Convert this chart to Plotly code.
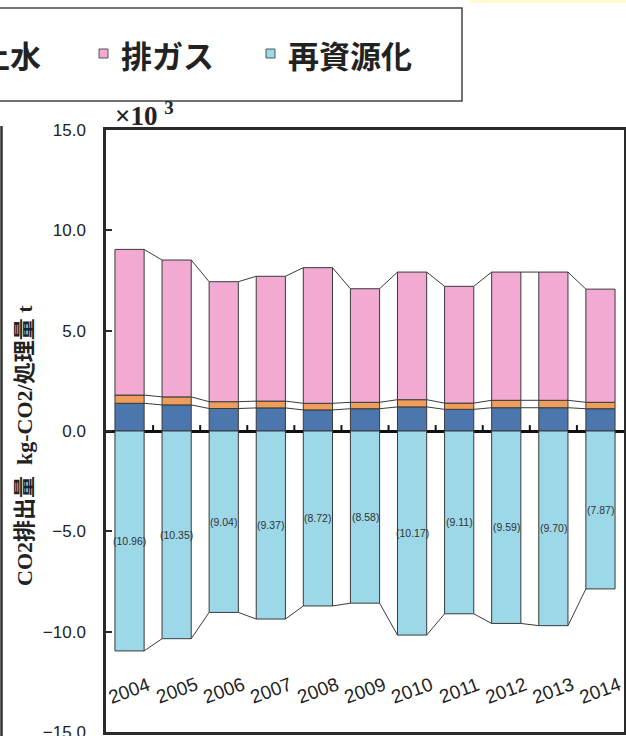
import plotly.graph_objects as go

# CO2 emission per treated tonne, by source (x10^3 kg-CO2/t)
years = ["2004", "2005", "2006", "2007", "2008", "2009",
         "2010", "2011", "2012", "2013", "2014"]
electricity = [1.38, 1.30, 1.12, 1.15, 1.05, 1.11, 1.20, 1.08, 1.16, 1.16, 1.11]
water = [0.41, 0.40, 0.34, 0.34, 0.33, 0.32, 0.36, 0.31, 0.37, 0.37, 0.32]
exhaust = [7.26, 6.82, 5.98, 6.22, 6.76, 5.66, 6.36, 5.82, 6.39, 6.39, 5.64]
recycling = [-10.96, -10.35, -9.04, -9.37, -8.72, -8.58,
             -10.17, -9.11, -9.59, -9.70, -7.87]
y_ticks = [15, 10, 5, 0, -5, -10, -15]

C_ELEC = "#4C76AE"
C_WATER = "#EE9E5A"
C_EXHAUST = "#F2AAD2"
C_RECYC = "#9CD8E8"
EDGE = "#3a3a3a"

# plot area in pixels (figure 626 x 736)
L, R, T, B = 106, 2, 130, 4
W_FIG, H_FIG = 626, 736
PW = W_FIG - L - R
PH = H_FIG - T - B


def px(xp):
    return (xp - L) / PW


def py(yp):
    return (H_FIG - B - yp) / PH


idx = list(range(len(years)))
BAR_W = 0.62
half = BAR_W / 2

fig = go.Figure()
for name, vals, col in [("電力", electricity, C_ELEC), ("上水", water, C_WATER),
                        ("排ガス", exhaust, C_EXHAUST), ("再資源化", recycling, C_RECYC)]:
    fig.add_trace(go.Bar(x=idx, y=vals, name=name, width=BAR_W,
                         marker=dict(color=col, line=dict(color=EDGE, width=1)),
                         showlegend=False))

# series lines joining the stack levels of neighbouring bars
lvl_elec = electricity
lvl_water = [a + b for a, b in zip(electricity, water)]
lvl_top = [a + b + c for a, b, c in zip(electricity, water, exhaust)]
for lvl in (lvl_elec, lvl_water, lvl_top, recycling):
    xs, ys = [], []
    for i in range(len(idx) - 1):
        xs += [i + half, i + 1 - half, None]
        ys += [lvl[i], lvl[i + 1], None]
    fig.add_trace(go.Scatter(x=xs, y=ys, mode="lines", hoverinfo="skip",
                             line=dict(color=EDGE, width=1), showlegend=False))

# small category boundary ticks on the zero line
fig.add_trace(go.Scatter(x=[i + 0.5 for i in idx[:-1]], y=[0.12] * (len(idx) - 1),
                         mode="markers", hoverinfo="skip", showlegend=False,
                         marker=dict(symbol="line-ns", size=5,
                                     line=dict(color="#111", width=2))))

ann = []
# value labels for the recycling credit
for i, v in zip(idx, recycling):
    ann.append(dict(x=i, y=v / 2, text=f"({abs(v):.2f})", showarrow=False,
                    font=dict(family="Liberation Sans, Arial", size=10.5, color="#333")))
# year labels inside the frame
for i, yr in zip(idx, years):
    ann.append(dict(x=i, y=-12.95, text=yr, showarrow=False, textangle=-20,
                    font=dict(family="Liberation Sans, Arial", size=19, color="#1e1e1e")))

# axis title
ann.append(dict(xref="paper", yref="paper", x=px(24), y=py(446),
                xanchor="center", yanchor="middle",
                text="<b>CO2排出量  kg-CO2/処理量 t</b>", textangle=-90, showarrow=False,
                font=dict(family="Liberation Serif, Noto Sans CJK JP", size=22, color="#222")))
# unit multiplier
ann.append(dict(xref="paper", yref="paper", x=px(113), y=py(114),
                xanchor="left", yanchor="middle",
                text="<b>×10 <sup>3</sup></b>", showarrow=False,
                font=dict(family="Liberation Serif", size=27, color="#222")))

# legend row
leg_font = dict(family="Noto Sans CJK JP", size=31, color="#222")
for xa, anchor, label in [(43, "right", "上水"), (119, "left", "排ガス"),
                          (286, "left", "再資源化")]:
    ann.append(dict(xref="paper", yref="paper", x=px(xa), y=py(54),
                    xanchor=anchor, yanchor="middle", text=f"<b>{label}</b>",
                    showarrow=False, font=leg_font))

shapes = [
    dict(type="rect", xref="paper", yref="paper", x0=px(-20), x1=px(462),
         y0=py(101), y1=py(8), line=dict(color="#444", width=1.5), layer="above"),
    dict(type="rect", xref="paper", yref="paper", x0=px(99), x1=px(108),
         y0=py(58), y1=py(49), fillcolor=C_EXHAUST, line=dict(color="#555", width=1)),
    dict(type="rect", xref="paper", yref="paper", x0=px(266), x1=px(275),
         y0=py(58), y1=py(49), fillcolor=C_RECYC, line=dict(color="#555", width=1)),
    dict(type="line", xref="paper", yref="paper", x0=px(1.5), x1=px(1.5),
         y0=py(126), y1=py(740), line=dict(color="#333", width=2.5)),
    dict(type="rect", xref="paper", yref="paper", x0=px(470), x1=px(630),
         y0=py(3), y1=py(-2), fillcolor="#FFF8D0", line=dict(width=0), layer="below"),
]

fig.update_layout(
    width=W_FIG, height=H_FIG,
    margin=dict(l=L, r=R, t=T, b=B, pad=0, autoexpand=False),
    barmode="relative", bargap=0.38,
    paper_bgcolor="white", plot_bgcolor="white",
    annotations=ann, shapes=shapes, showlegend=False,
    xaxis=dict(range=[-0.5, len(idx) - 0.5], showticklabels=False, showgrid=False,
               zeroline=False, showline=True, mirror=True, linecolor="#2a2a2a",
               linewidth=2.5, ticks="", fixedrange=True, automargin=False),
    yaxis=dict(range=[-15, 15], tickvals=y_ticks, tickformat=".1f", showgrid=False,
               zeroline=True, zerolinecolor="#111", zerolinewidth=2.5,
               showline=True, mirror=True, linecolor="#2a2a2a", linewidth=2.5,
               ticks="inside", ticklen=6, tickwidth=2, tickcolor="#2a2a2a",
               ticklabelstandoff=14, ticklabeloverflow="allow", layer="above traces",
               automargin=False,
               tickfont=dict(family="Liberation Sans, Arial", size=17, color="#222")),
)

fig.write_html("out.html")
